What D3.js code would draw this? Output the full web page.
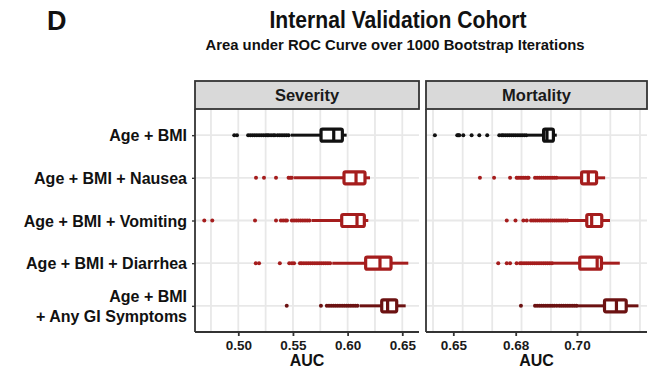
<!DOCTYPE html>
<html><head><meta charset="utf-8">
<script src="https://cdn.jsdelivr.net/npm/d3@7"></script>
<style>
body{margin:0;background:#fff;}
svg text{font-family:"Liberation Sans",Arial,Helvetica,sans-serif;font-weight:bold;}
</style></head>
<body><svg id="c" width="648" height="371"></svg>
<script>
// ---------------- data ----------------
const categories = ["Age + BMI", "Age + BMI + Nausea", "Age + BMI + Vomiting", "Age + BMI + Diarrhea", "Age + BMI\n+ Any GI Symptoms"];
const seriesColors = ["#111111", "#a51d1d", "#a51d1d", "#a51d1d", "#6c1212"];
const panels = ["Severity", "Mortality"];

// Severity boxplot stats
const sevLow  = [0.548, 0.551, 0.567, 0.586, 0.611];
const sevQ1   = [0.5757, 0.5967, 0.5946, 0.6165, 0.6312];
const sevMed  = [0.5873, 0.6077, 0.6086, 0.6296, 0.6366];
const sevQ3   = [0.5952, 0.6159, 0.6153, 0.6397, 0.6449];
const sevHigh = [0.5991, 0.6205, 0.6189, 0.6555, 0.6531];
const sevOutliers = [
  [0.4963, 0.4988, 0.509, 0.511, 0.513, 0.515, 0.517, 0.519, 0.521, 0.523, 0.525, 0.5265, 0.528, 0.530, 0.532, 0.5335, 0.536, 0.538, 0.540, 0.542, 0.544, 0.546],
  [0.5162, 0.5235, 0.5345, 0.546, 0.5475, 0.549],
  [0.4689, 0.4762, 0.5153, 0.5345, 0.539, 0.541, 0.543, 0.5445, 0.549, 0.551, 0.553, 0.555, 0.557, 0.559, 0.561, 0.563, 0.565],
  [0.516, 0.519, 0.538, 0.5466, 0.549, 0.551, 0.5564, 0.558, 0.560, 0.562, 0.564, 0.566, 0.568, 0.570, 0.572, 0.574, 0.576, 0.578, 0.580, 0.582, 0.584],
  [0.5443, 0.5756, 0.581, 0.583, 0.585, 0.587, 0.589, 0.591, 0.593, 0.595, 0.597, 0.599, 0.601, 0.603, 0.605, 0.607, 0.609]
];

// Mortality boxplot stats
const morLow  = [0.6840, 0.6936, 0.6970, 0.6919, 0.6999];
const morQ1   = [0.6891, 0.7015, 0.7032, 0.7009, 0.7090];
const morMed  = [0.6902, 0.7037, 0.7048, 0.7066, 0.7129];
const morQ3   = [0.6923, 0.7064, 0.7081, 0.7080, 0.7161];
const morHigh = [0.6934, 0.7092, 0.7108, 0.7140, 0.7201];
const morOutliers = [
  [0.6412, 0.6519, 0.6524, 0.6529, 0.6548, 0.6588, 0.6625, 0.6663, 0.6721, 0.6733, 0.6740, 0.6750, 0.6760, 0.6770, 0.6780, 0.6790, 0.6800, 0.6807, 0.6814, 0.6821, 0.6828, 0.6835],
  [0.6628, 0.6696, 0.6773, 0.6803, 0.6808, 0.6814, 0.6820, 0.6826, 0.6832, 0.6838, 0.6842, 0.6863, 0.6870, 0.6877, 0.6884, 0.6891, 0.6898, 0.6905, 0.6912, 0.6919, 0.6926, 0.6933],
  [0.6757, 0.6799, 0.6825, 0.6836, 0.6850, 0.6857, 0.6864, 0.6871, 0.6878, 0.6885, 0.6892, 0.6899, 0.6906, 0.6913, 0.6920, 0.6927, 0.6934, 0.6941, 0.6948, 0.6955, 0.6962, 0.6969],
  [0.6716, 0.6757, 0.6773, 0.6803, 0.6814, 0.6820, 0.6827, 0.6834, 0.6841, 0.6848, 0.6855, 0.6862, 0.6869, 0.6876, 0.6883, 0.6890, 0.6897, 0.6904, 0.6911, 0.6918],
  [0.6817, 0.6863, 0.6870, 0.6877, 0.6884, 0.6891, 0.6898, 0.6905, 0.6912, 0.6919, 0.6926, 0.6934, 0.6942, 0.6949, 0.6956, 0.6963, 0.6970, 0.6977, 0.6984, 0.6991, 0.6998]
];

// axes
const sevTicks = [0.50, 0.55, 0.60, 0.65];
const sevTickLabels = ["0.50", "0.55", "0.60", "0.65"];
const sevGrid = [0.475, 0.50, 0.525, 0.55, 0.575, 0.60, 0.625, 0.65];
const morTicks = [0.65, 0.68, 0.70];
const morTickLabels = ["0.65", "0.68", "0.70"];
const morGrid = [0.6403, 0.6545, 0.6687, 0.6819, 0.6915, 0.7012, 0.7109, 0.7206];
const titleText = "Internal Validation Cohort";
const subtitleText = "Area under ROC Curve over 1000 Bootstrap Iterations";
const panelLetter = "D";
const xTitle = "AUC";

// ---------------- layout ----------------
const svg = d3.select("#c");
const pTop = 109, pBottom = 332, stripTop = 81;
const y = d3.scalePoint().domain(categories).range([pTop, pBottom]).padding(0.613);

const W1 = [195, 419], W2 = [426, 647];
const xSev = d3.scaleLinear().domain([0.4604, 0.6653]).range(W1);
const xMor = d3.scaleLinear().domain([0.6403, 0.65, 0.68, 0.70, 0.7229]).range([433, 453.3, 515.7, 577, 647]);

svg.append("text").attr("x", 47).attr("y", 30).attr("font-size", 27).attr("fill", "#111").text(panelLetter);
svg.append("text").attr("x", 398).attr("y", 28).attr("text-anchor", "middle")
  .attr("font-size", 23).attr("textLength", 257).attr("lengthAdjust", "spacingAndGlyphs")
  .attr("fill", "#111").text(titleText);
svg.append("text").attr("x", 395).attr("y", 50).attr("text-anchor", "middle")
  .attr("font-size", 15).attr("textLength", 379).attr("lengthAdjust", "spacingAndGlyphs")
  .attr("fill", "#111").text(subtitleText);

function drawPanel(x, range, name, grid, ticks, tickLabels, low, q1, med, q3, high, outl) {
  const g = svg.append("g");
  g.selectAll(".vg").data(grid).join("line")
    .attr("x1", d => x(d)).attr("x2", d => x(d)).attr("y1", pTop).attr("y2", pBottom)
    .attr("stroke", "#e8e8e8").attr("stroke-width", 1.8);
  g.selectAll(".hg").data(categories).join("line")
    .attr("x1", range[0]).attr("x2", range[1]).attr("y1", d => y(d)).attr("y2", d => y(d))
    .attr("stroke", "#e8e8e8").attr("stroke-width", 1.8);
  g.append("rect").attr("x", range[0]).attr("y", stripTop).attr("width", range[1] - range[0]).attr("height", pTop - stripTop)
    .attr("fill", "#d9d9d9").attr("stroke", "#333").attr("stroke-width", 1.8);
  g.append("text").attr("x", (range[0] + range[1]) / 2).attr("y", (stripTop + pTop) / 2 + 6)
    .attr("text-anchor", "middle").attr("font-size", 16.5).attr("fill", "#1a1a1a").text(name);

  categories.forEach((c, i) => {
    const cy = y(c), col = seriesColors[i];
    g.selectAll(null).data(outl[i]).join("circle")
      .attr("cx", d => x(d)).attr("cy", cy).attr("r", 2).attr("fill", col);
    g.append("line").attr("x1", x(low[i])).attr("x2", x(q1[i])).attr("y1", cy).attr("y2", cy)
      .attr("stroke", col).attr("stroke-width", 3);
    g.append("line").attr("x1", x(q3[i])).attr("x2", x(high[i])).attr("y1", cy).attr("y2", cy)
      .attr("stroke", col).attr("stroke-width", 3);
    g.append("rect").attr("x", x(q1[i])).attr("y", cy - 6).attr("width", x(q3[i]) - x(q1[i])).attr("height", 12)
      .attr("rx", 1.5).attr("fill", "#fff").attr("stroke", col).attr("stroke-width", 3.2);
    g.append("line").attr("x1", x(med[i])).attr("x2", x(med[i])).attr("y1", cy - 6).attr("y2", cy + 6)
      .attr("stroke", col).attr("stroke-width", 3.2);
  });

  const ax = g.append("g").attr("transform", `translate(0,${pBottom})`)
    .call(d3.axisBottom(x).tickValues(ticks).tickFormat((d, i) => tickLabels[i]).tickSize(4).tickPadding(4));
  ax.select(".domain").attr("d", `M${range[0]},0H${range[1]}`).attr("stroke", "#333").attr("stroke-width", 1.8);
  ax.selectAll(".tick line").attr("stroke", "#333").attr("stroke-width", 1.8);
  ax.selectAll(".tick text").attr("font-size", 13.5).attr("fill", "#1a1a1a")
    .style("font-family", "'Liberation Sans',Arial,sans-serif").style("font-weight", "bold");
  g.append("line").attr("x1", range[0]).attr("x2", range[0]).attr("y1", pTop).attr("y2", pBottom)
    .attr("stroke", "#333").attr("stroke-width", 1.8);
  g.append("text").attr("x", (range[0] + range[1]) / 2).attr("y", 366).attr("text-anchor", "middle")
    .attr("font-size", 16).attr("fill", "#111").text(xTitle);
}

drawPanel(xSev, W1, panels[0], sevGrid, sevTicks, sevTickLabels, sevLow, sevQ1, sevMed, sevQ3, sevHigh, sevOutliers);
drawPanel(xMor, W2, panels[1], morGrid, morTicks, morTickLabels, morLow, morQ1, morMed, morQ3, morHigh, morOutliers);

const ya = svg.append("g").attr("transform", `translate(${W1[0]},0)`)
  .call(d3.axisLeft(y).tickSize(3).tickPadding(5));
ya.select(".domain").remove();
ya.selectAll(".tick line").attr("stroke", "#333").attr("stroke-width", 1.4);
ya.selectAll(".tick text").each(function (d) {
  const t = d3.select(this);
  const lines = d.split("\n");
  t.text(null).attr("font-size", 16).attr("fill", "#111")
    .style("font-family", "'Liberation Sans',Arial,sans-serif").style("font-weight", "bold");
  lines.forEach((ln, k) => {
    t.append("tspan").attr("x", -8).attr("dy", k === 0 ? (lines.length > 1 ? "-0.25em" : "0.35em") : "1.2em").text(ln);
  });
});
</script></body></html>
